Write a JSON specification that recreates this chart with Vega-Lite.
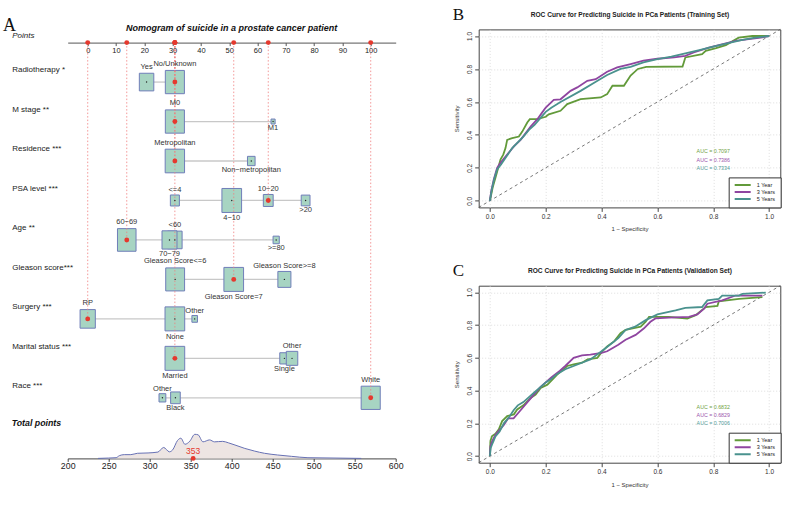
{
  "$schema": "https://vega.github.io/schema/vega-lite/v6.json",
  "background": "white",
  "padding": {"left": 1.7, "top": 5.4, "right": 5, "bottom": 5},
  "config": {
    "font": "Liberation Sans",
    "view": {"stroke": null},
    "axis": {"labelFont": "Liberation Sans", "titleFont": "Liberation Sans", "labelColor": "#222", "titleColor": "#222", "titleFontWeight": "normal", "labelOverlap": false},
    "title": {"font": "Liberation Sans", "color": "#111"}
  },
  "datasets": {
    "levels": [
      {"variable": "Radiotherapy *", "level": "Yes", "pts": 20.8, "share": 0.54, "patient": false},
      {"variable": "Radiotherapy *", "level": "No/Unknown", "pts": 30.8, "share": 0.94, "patient": true},
      {"variable": "M stage **", "level": "M0", "pts": 30.8, "share": 0.94, "patient": true},
      {"variable": "M stage **", "level": "M1", "pts": 65.5, "share": 0.043, "patient": false},
      {"variable": "Residence ***", "level": "Metropolitan", "pts": 30.8, "share": 0.97, "patient": true},
      {"variable": "Residence ***", "level": "Non−metropolitan", "pts": 57.8, "share": 0.15, "patient": false},
      {"variable": "PSA level ***", "level": "<=4", "pts": 30.8, "share": 0.21, "patient": false},
      {"variable": "PSA level ***", "level": "4−10", "pts": 50.9, "share": 1.0, "patient": false},
      {"variable": "PSA level ***", "level": "10−20", "pts": 63.8, "share": 0.25, "patient": true},
      {"variable": "PSA level ***", "level": ">20", "pts": 77.0, "share": 0.2, "patient": false},
      {"variable": "Age **", "level": "60−69", "pts": 13.8, "share": 0.89, "patient": true},
      {"variable": "Age **", "level": "<60", "pts": 30.8, "share": 0.54, "patient": false},
      {"variable": "Age **", "level": "70−79", "pts": 28.9, "share": 0.58, "patient": false},
      {"variable": "Age **", "level": ">=80", "pts": 66.6, "share": 0.1, "patient": false},
      {"variable": "Gleason score***", "level": "Gleason Score<=6", "pts": 30.9, "share": 0.92, "patient": false},
      {"variable": "Gleason score***", "level": "Gleason Score=7", "pts": 51.6, "share": 1.0, "patient": true},
      {"variable": "Gleason score***", "level": "Gleason Score>=8", "pts": 69.5, "share": 0.44, "patient": false},
      {"variable": "Surgery ***", "level": "RP", "pts": 0, "share": 0.6, "patient": true},
      {"variable": "Surgery ***", "level": "None", "pts": 30.8, "share": 1.0, "patient": false},
      {"variable": "Surgery ***", "level": "Other", "pts": 37.8, "share": 0.08, "patient": false},
      {"variable": "Marital status ***", "level": "Married", "pts": 30.8, "share": 1.0, "patient": true},
      {"variable": "Marital status ***", "level": "Single", "pts": 69.5, "share": 0.22, "patient": false},
      {"variable": "Marital status ***", "level": "Other", "pts": 72.2, "share": 0.34, "patient": false},
      {"variable": "Race ***", "level": "Other", "pts": 26.4, "share": 0.12, "patient": false},
      {"variable": "Race ***", "level": "Black", "pts": 31.0, "share": 0.24, "patient": false},
      {"variable": "Race ***", "level": "White", "pts": 100, "share": 0.94, "patient": true}
    ],
    "density": [
      {"total": 237, "density": 0}, {"total": 250, "density": 0.00014}, {"total": 259, "density": 0.00028},
      {"total": 263, "density": 0.00112}, {"total": 269, "density": 0.00154}, {"total": 277, "density": 0.00154},
      {"total": 285, "density": 0.0021}, {"total": 298, "density": 0.00224}, {"total": 310, "density": 0.0026},
      {"total": 317, "density": 0.0045}, {"total": 324, "density": 0.0027}, {"total": 328, "density": 0.0035},
      {"total": 334, "density": 0.0074}, {"total": 338, "density": 0.0083}, {"total": 343, "density": 0.0058},
      {"total": 349, "density": 0.0071}, {"total": 355, "density": 0.0099}, {"total": 359, "density": 0.0097},
      {"total": 365, "density": 0.0068}, {"total": 373, "density": 0.0076}, {"total": 379, "density": 0.0068},
      {"total": 389, "density": 0.0070}, {"total": 396, "density": 0.0064}, {"total": 404, "density": 0.0055},
      {"total": 416, "density": 0.0041}, {"total": 428, "density": 0.003}, {"total": 440, "density": 0.0021},
      {"total": 456, "density": 0.0014}, {"total": 473, "density": 0.00084}, {"total": 493, "density": 0.00028},
      {"total": 526, "density": 0.00014}, {"total": 558, "density": 0}
    ],
    "patient_total": [{"total": 353}],
    "auc": [
      {"set": "Training", "s": "1 Year", "label": "AUC = 0.7097"},
      {"set": "Training", "s": "3 Years", "label": "AUC = 0.7386"},
      {"set": "Training", "s": "5 Years", "label": "AUC = 0.7334"},
      {"set": "Validation", "s": "1 Year", "label": "AUC = 0.6832"},
      {"set": "Validation", "s": "3 Years", "label": "AUC = 0.6829"},
      {"set": "Validation", "s": "5 Years", "label": "AUC = 0.7006"}
    ],
    "train": [
      {"s": "1 Year", "fpr": 0, "tpr": 0}, {"s": "1 Year", "fpr": 0.004, "tpr": 0.03}, {"s": "1 Year", "fpr": 0.01, "tpr": 0.08},
      {"s": "1 Year", "fpr": 0.02, "tpr": 0.14}, {"s": "1 Year", "fpr": 0.03, "tpr": 0.2}, {"s": "1 Year", "fpr": 0.038, "tpr": 0.25},
      {"s": "1 Year", "fpr": 0.048, "tpr": 0.28}, {"s": "1 Year", "fpr": 0.056, "tpr": 0.32}, {"s": "1 Year", "fpr": 0.062, "tpr": 0.37},
      {"s": "1 Year", "fpr": 0.08, "tpr": 0.38}, {"s": "1 Year", "fpr": 0.104, "tpr": 0.39}, {"s": "1 Year", "fpr": 0.116, "tpr": 0.42},
      {"s": "1 Year", "fpr": 0.134, "tpr": 0.475}, {"s": "1 Year", "fpr": 0.143, "tpr": 0.495}, {"s": "1 Year", "fpr": 0.17, "tpr": 0.495},
      {"s": "1 Year", "fpr": 0.2, "tpr": 0.51}, {"s": "1 Year", "fpr": 0.211, "tpr": 0.525}, {"s": "1 Year", "fpr": 0.253, "tpr": 0.546},
      {"s": "1 Year", "fpr": 0.277, "tpr": 0.587}, {"s": "1 Year", "fpr": 0.325, "tpr": 0.617}, {"s": "1 Year", "fpr": 0.397, "tpr": 0.627},
      {"s": "1 Year", "fpr": 0.42, "tpr": 0.647}, {"s": "1 Year", "fpr": 0.439, "tpr": 0.698}, {"s": "1 Year", "fpr": 0.48, "tpr": 0.698},
      {"s": "1 Year", "fpr": 0.504, "tpr": 0.76}, {"s": "1 Year", "fpr": 0.53, "tpr": 0.8}, {"s": "1 Year", "fpr": 0.56, "tpr": 0.813},
      {"s": "1 Year", "fpr": 0.69, "tpr": 0.815}, {"s": "1 Year", "fpr": 0.7, "tpr": 0.87}, {"s": "1 Year", "fpr": 0.76, "tpr": 0.89},
      {"s": "1 Year", "fpr": 0.773, "tpr": 0.91}, {"s": "1 Year", "fpr": 0.81, "tpr": 0.927}, {"s": "1 Year", "fpr": 0.845, "tpr": 0.945},
      {"s": "1 Year", "fpr": 0.891, "tpr": 0.99}, {"s": "1 Year", "fpr": 0.94, "tpr": 1}, {"s": "1 Year", "fpr": 1, "tpr": 1},
      {"s": "3 Years", "fpr": 0, "tpr": 0}, {"s": "3 Years", "fpr": 0.005, "tpr": 0.06}, {"s": "3 Years", "fpr": 0.014, "tpr": 0.13},
      {"s": "3 Years", "fpr": 0.026, "tpr": 0.2}, {"s": "3 Years", "fpr": 0.038, "tpr": 0.23}, {"s": "3 Years", "fpr": 0.062, "tpr": 0.28},
      {"s": "3 Years", "fpr": 0.086, "tpr": 0.33}, {"s": "3 Years", "fpr": 0.11, "tpr": 0.37}, {"s": "3 Years", "fpr": 0.146, "tpr": 0.45},
      {"s": "3 Years", "fpr": 0.17, "tpr": 0.495}, {"s": "3 Years", "fpr": 0.187, "tpr": 0.535}, {"s": "3 Years", "fpr": 0.2, "tpr": 0.566},
      {"s": "3 Years", "fpr": 0.229, "tpr": 0.612}, {"s": "3 Years", "fpr": 0.253, "tpr": 0.616}, {"s": "3 Years", "fpr": 0.289, "tpr": 0.667},
      {"s": "3 Years", "fpr": 0.313, "tpr": 0.688}, {"s": "3 Years", "fpr": 0.349, "tpr": 0.728}, {"s": "3 Years", "fpr": 0.379, "tpr": 0.738},
      {"s": "3 Years", "fpr": 0.42, "tpr": 0.783}, {"s": "3 Years", "fpr": 0.456, "tpr": 0.81}, {"s": "3 Years", "fpr": 0.504, "tpr": 0.83},
      {"s": "3 Years", "fpr": 0.55, "tpr": 0.85}, {"s": "3 Years", "fpr": 0.6, "tpr": 0.862}, {"s": "3 Years", "fpr": 0.66, "tpr": 0.87},
      {"s": "3 Years", "fpr": 0.7, "tpr": 0.88}, {"s": "3 Years", "fpr": 0.73, "tpr": 0.9}, {"s": "3 Years", "fpr": 0.784, "tpr": 0.93},
      {"s": "3 Years", "fpr": 0.845, "tpr": 0.955}, {"s": "3 Years", "fpr": 0.88, "tpr": 0.97}, {"s": "3 Years", "fpr": 0.92, "tpr": 0.98},
      {"s": "3 Years", "fpr": 0.97, "tpr": 0.99}, {"s": "3 Years", "fpr": 1, "tpr": 1},
      {"s": "5 Years", "fpr": 0, "tpr": 0}, {"s": "5 Years", "fpr": 0.006, "tpr": 0.06}, {"s": "5 Years", "fpr": 0.015, "tpr": 0.13},
      {"s": "5 Years", "fpr": 0.026, "tpr": 0.19}, {"s": "5 Years", "fpr": 0.04, "tpr": 0.22}, {"s": "5 Years", "fpr": 0.06, "tpr": 0.27},
      {"s": "5 Years", "fpr": 0.08, "tpr": 0.32}, {"s": "5 Years", "fpr": 0.1, "tpr": 0.355}, {"s": "5 Years", "fpr": 0.12, "tpr": 0.39},
      {"s": "5 Years", "fpr": 0.14, "tpr": 0.43}, {"s": "5 Years", "fpr": 0.16, "tpr": 0.46}, {"s": "5 Years", "fpr": 0.18, "tpr": 0.5},
      {"s": "5 Years", "fpr": 0.2, "tpr": 0.54}, {"s": "5 Years", "fpr": 0.22, "tpr": 0.565}, {"s": "5 Years", "fpr": 0.253, "tpr": 0.6},
      {"s": "5 Years", "fpr": 0.325, "tpr": 0.667}, {"s": "5 Years", "fpr": 0.372, "tpr": 0.715}, {"s": "5 Years", "fpr": 0.42, "tpr": 0.763},
      {"s": "5 Years", "fpr": 0.468, "tpr": 0.8}, {"s": "5 Years", "fpr": 0.504, "tpr": 0.813}, {"s": "5 Years", "fpr": 0.55, "tpr": 0.84},
      {"s": "5 Years", "fpr": 0.6, "tpr": 0.86}, {"s": "5 Years", "fpr": 0.65, "tpr": 0.875}, {"s": "5 Years", "fpr": 0.7, "tpr": 0.895},
      {"s": "5 Years", "fpr": 0.75, "tpr": 0.915}, {"s": "5 Years", "fpr": 0.8, "tpr": 0.935}, {"s": "5 Years", "fpr": 0.85, "tpr": 0.955},
      {"s": "5 Years", "fpr": 0.9, "tpr": 0.975}, {"s": "5 Years", "fpr": 0.95, "tpr": 0.99}, {"s": "5 Years", "fpr": 1, "tpr": 1}
    ],
    "valid": [
      {"s": "1 Year", "fpr": 0, "tpr": 0}, {"s": "1 Year", "fpr": 0.002, "tpr": 0.093}, {"s": "1 Year", "fpr": 0.008, "tpr": 0.123},
      {"s": "1 Year", "fpr": 0.02, "tpr": 0.137}, {"s": "1 Year", "fpr": 0.032, "tpr": 0.164}, {"s": "1 Year", "fpr": 0.044, "tpr": 0.214},
      {"s": "1 Year", "fpr": 0.062, "tpr": 0.244}, {"s": "1 Year", "fpr": 0.086, "tpr": 0.255}, {"s": "1 Year", "fpr": 0.098, "tpr": 0.285},
      {"s": "1 Year", "fpr": 0.12, "tpr": 0.31}, {"s": "1 Year", "fpr": 0.146, "tpr": 0.355}, {"s": "1 Year", "fpr": 0.164, "tpr": 0.376},
      {"s": "1 Year", "fpr": 0.182, "tpr": 0.416}, {"s": "1 Year", "fpr": 0.206, "tpr": 0.436}, {"s": "1 Year", "fpr": 0.241, "tpr": 0.497},
      {"s": "1 Year", "fpr": 0.277, "tpr": 0.55}, {"s": "1 Year", "fpr": 0.3, "tpr": 0.56}, {"s": "1 Year", "fpr": 0.33, "tpr": 0.57},
      {"s": "1 Year", "fpr": 0.35, "tpr": 0.59}, {"s": "1 Year", "fpr": 0.385, "tpr": 0.6}, {"s": "1 Year", "fpr": 0.403, "tpr": 0.64},
      {"s": "1 Year", "fpr": 0.42, "tpr": 0.67}, {"s": "1 Year", "fpr": 0.445, "tpr": 0.7}, {"s": "1 Year", "fpr": 0.468, "tpr": 0.75},
      {"s": "1 Year", "fpr": 0.486, "tpr": 0.77}, {"s": "1 Year", "fpr": 0.54, "tpr": 0.79}, {"s": "1 Year", "fpr": 0.558, "tpr": 0.82},
      {"s": "1 Year", "fpr": 0.57, "tpr": 0.85}, {"s": "1 Year", "fpr": 0.64, "tpr": 0.85}, {"s": "1 Year", "fpr": 0.707, "tpr": 0.84},
      {"s": "1 Year", "fpr": 0.737, "tpr": 0.86}, {"s": "1 Year", "fpr": 0.773, "tpr": 0.91}, {"s": "1 Year", "fpr": 0.815, "tpr": 0.917},
      {"s": "1 Year", "fpr": 0.82, "tpr": 0.945}, {"s": "1 Year", "fpr": 0.892, "tpr": 0.96}, {"s": "1 Year", "fpr": 0.976, "tpr": 0.97},
      {"s": "3 Years", "fpr": 0, "tpr": 0}, {"s": "3 Years", "fpr": 0.002, "tpr": 0.06}, {"s": "3 Years", "fpr": 0.008, "tpr": 0.09},
      {"s": "3 Years", "fpr": 0.02, "tpr": 0.13}, {"s": "3 Years", "fpr": 0.035, "tpr": 0.16}, {"s": "3 Years", "fpr": 0.05, "tpr": 0.19},
      {"s": "3 Years", "fpr": 0.065, "tpr": 0.23}, {"s": "3 Years", "fpr": 0.085, "tpr": 0.23}, {"s": "3 Years", "fpr": 0.1, "tpr": 0.26},
      {"s": "3 Years", "fpr": 0.12, "tpr": 0.3}, {"s": "3 Years", "fpr": 0.14, "tpr": 0.34}, {"s": "3 Years", "fpr": 0.16, "tpr": 0.38},
      {"s": "3 Years", "fpr": 0.18, "tpr": 0.42}, {"s": "3 Years", "fpr": 0.2, "tpr": 0.45}, {"s": "3 Years", "fpr": 0.22, "tpr": 0.48},
      {"s": "3 Years", "fpr": 0.25, "tpr": 0.52}, {"s": "3 Years", "fpr": 0.27, "tpr": 0.55}, {"s": "3 Years", "fpr": 0.3, "tpr": 0.6},
      {"s": "3 Years", "fpr": 0.33, "tpr": 0.615}, {"s": "3 Years", "fpr": 0.36, "tpr": 0.62}, {"s": "3 Years", "fpr": 0.4, "tpr": 0.63},
      {"s": "3 Years", "fpr": 0.42, "tpr": 0.64}, {"s": "3 Years", "fpr": 0.44, "tpr": 0.66}, {"s": "3 Years", "fpr": 0.46, "tpr": 0.68},
      {"s": "3 Years", "fpr": 0.486, "tpr": 0.71}, {"s": "3 Years", "fpr": 0.522, "tpr": 0.74}, {"s": "3 Years", "fpr": 0.552, "tpr": 0.78},
      {"s": "3 Years", "fpr": 0.575, "tpr": 0.82}, {"s": "3 Years", "fpr": 0.593, "tpr": 0.84}, {"s": "3 Years", "fpr": 0.641, "tpr": 0.845},
      {"s": "3 Years", "fpr": 0.713, "tpr": 0.85}, {"s": "3 Years", "fpr": 0.743, "tpr": 0.865}, {"s": "3 Years", "fpr": 0.767, "tpr": 0.9},
      {"s": "3 Years", "fpr": 0.779, "tpr": 0.93}, {"s": "3 Years", "fpr": 0.832, "tpr": 0.95}, {"s": "3 Years", "fpr": 0.88, "tpr": 0.98},
      {"s": "3 Years", "fpr": 0.976, "tpr": 0.98},
      {"s": "5 Years", "fpr": 0, "tpr": 0}, {"s": "5 Years", "fpr": 0.003, "tpr": 0.05}, {"s": "5 Years", "fpr": 0.01, "tpr": 0.08},
      {"s": "5 Years", "fpr": 0.02, "tpr": 0.12}, {"s": "5 Years", "fpr": 0.035, "tpr": 0.15}, {"s": "5 Years", "fpr": 0.05, "tpr": 0.2},
      {"s": "5 Years", "fpr": 0.07, "tpr": 0.24}, {"s": "5 Years", "fpr": 0.085, "tpr": 0.28}, {"s": "5 Years", "fpr": 0.1, "tpr": 0.31},
      {"s": "5 Years", "fpr": 0.12, "tpr": 0.33}, {"s": "5 Years", "fpr": 0.14, "tpr": 0.36}, {"s": "5 Years", "fpr": 0.16, "tpr": 0.39},
      {"s": "5 Years", "fpr": 0.18, "tpr": 0.42}, {"s": "5 Years", "fpr": 0.2, "tpr": 0.45}, {"s": "5 Years", "fpr": 0.22, "tpr": 0.47},
      {"s": "5 Years", "fpr": 0.24, "tpr": 0.5}, {"s": "5 Years", "fpr": 0.27, "tpr": 0.53}, {"s": "5 Years", "fpr": 0.3, "tpr": 0.55},
      {"s": "5 Years", "fpr": 0.33, "tpr": 0.57}, {"s": "5 Years", "fpr": 0.36, "tpr": 0.59}, {"s": "5 Years", "fpr": 0.4, "tpr": 0.64},
      {"s": "5 Years", "fpr": 0.43, "tpr": 0.68}, {"s": "5 Years", "fpr": 0.46, "tpr": 0.72}, {"s": "5 Years", "fpr": 0.486, "tpr": 0.77},
      {"s": "5 Years", "fpr": 0.52, "tpr": 0.79}, {"s": "5 Years", "fpr": 0.558, "tpr": 0.83}, {"s": "5 Years", "fpr": 0.6, "tpr": 0.865},
      {"s": "5 Years", "fpr": 0.665, "tpr": 0.89}, {"s": "5 Years", "fpr": 0.7, "tpr": 0.905}, {"s": "5 Years", "fpr": 0.76, "tpr": 0.91},
      {"s": "5 Years", "fpr": 0.779, "tpr": 0.95}, {"s": "5 Years", "fpr": 0.82, "tpr": 0.96}, {"s": "5 Years", "fpr": 0.832, "tpr": 0.98},
      {"s": "5 Years", "fpr": 0.892, "tpr": 0.98}, {"s": "5 Years", "fpr": 0.904, "tpr": 0.99}, {"s": "5 Years", "fpr": 0.988, "tpr": 0.998}
    ]
  },
  "bounds": "full",
  "spacing": 48,
  "hconcat": [
    {
      "bounds": "flush",
      "spacing": 0,
      "resolve": {"scale": {"x": "independent"}},
      "vconcat": [
        {
          "width": 328,
          "height": 401.3,
          "title": {"text": "Nomogram of suicide in a prostate cancer patient", "fontSize": 9, "fontWeight": "bold", "fontStyle": "italic", "anchor": "middle", "offset": -16.5},
          "data": {"name": "levels"},
          "resolve": {"scale": {"yOffset": "independent"}},
          "encoding": {
            "y": {
              "field": "variable", "type": "nominal",
              "scale": {"type": "point", "domain": ["Points", "Radiotherapy *", "M stage **", "Residence ***", "PSA level ***", "Age **", "Gleason score***", "Surgery ***", "Marital status ***", "Race ***"], "padding": 0.5837, "align": 0.2865},
              "axis": {
                "orient": "left", "domain": false, "ticks": false, "tickSize": 0, "grid": false,
                "labelAlign": "left", "labelBaseline": "middle", "labelPadding": 56, "labelFontSize": 8, "labelColor": "#222", "labelLimit": 0,
                "labelOffset": {"condition": {"test": "datum.value == 'Points'", "value": -7.5}, "value": -12.3},
                "labelFontStyle": {"condition": {"test": "datum.value == 'Points'", "value": "italic"}, "value": "normal"},
                "title": "A", "titleAngle": 0, "titleFont": "Liberation Serif", "titleFontSize": 18, "titleFontWeight": "normal",
                "titleAlign": "left", "titleBaseline": "alphabetic", "titleX": -65.3, "titleY": 1.3, "titleColor": "#111"
              }
            },
            "x": {
              "field": "pts", "type": "quantitative",
              "scale": {"domain": [-7.07, 108.83], "nice": false, "zero": false},
              "axis": {
                "orient": "bottom", "offset": -388.1, "values": [0, 10, 20, 30, 40, 50, 60, 70, 80, 90, 100],
                "domainColor": "#555", "domainWidth": 1, "tickColor": "#555", "tickSize": 3, "labelFontSize": 7.5,
                "labelPadding": 1, "labelColor": "#222", "grid": false, "title": null, "labelFlush": false
              }
            }
          },
          "layer": [
            {
              "transform": [{"aggregate": [{"op": "min", "field": "pts", "as": "lo"}, {"op": "max", "field": "pts", "as": "hi"}], "groupby": ["variable"]}],
              "mark": {"type": "rule", "color": "#c8c8c8", "strokeWidth": 1.3},
              "encoding": {
                "x": {
                  "field": "lo", "type": "quantitative",
                  "scale": {"domain": [-7.07, 108.83], "nice": false, "zero": false},
                  "axis": {
                    "orient": "bottom", "offset": -388.1, "values": [0, 10, 20, 30, 40, 50, 60, 70, 80, 90, 100],
                    "domainColor": "#555", "domainWidth": 1, "tickColor": "#555", "tickSize": 3, "labelFontSize": 7.5,
                    "labelPadding": 1, "labelColor": "#222", "grid": false, "title": null, "labelFlush": false
                  }
                },
                "x2": {"field": "hi"}
              }
            },
            {
              "mark": {"type": "point", "shape": "M-0.82,-1H0.82V1H-0.82Z", "filled": true, "fill": "#a7d4c2", "stroke": "#6f7db9", "strokeWidth": 1, "opacity": 1},
              "encoding": {
                "size": {"field": "share", "type": "quantitative", "scale": {"domain": [0, 1], "range": [0, 576]}, "legend": null}
              }
            },
            {
              "transform": [{"filter": "datum.patient"}],
              "mark": {"type": "rule", "color": "#f07f7f", "strokeWidth": 0.8, "strokeDash": [1.5, 2]},
              "encoding": {
                "y": {
                  "datum": "Points", "type": "nominal",
                  "axis": {
                    "orient": "left", "domain": false, "ticks": false, "tickSize": 0, "grid": false,
                    "labelAlign": "left", "labelBaseline": "middle", "labelPadding": 56, "labelFontSize": 8, "labelColor": "#222", "labelLimit": 0,
                    "labelOffset": {"condition": {"test": "datum.value == 'Points'", "value": -7.5}, "value": -12.3},
                    "labelFontStyle": {"condition": {"test": "datum.value == 'Points'", "value": "italic"}, "value": "normal"},
                    "title": "A", "titleAngle": 0, "titleFont": "Liberation Serif", "titleFontSize": 18, "titleFontWeight": "normal",
                    "titleAlign": "left", "titleBaseline": "alphabetic", "titleX": -65.3, "titleY": 1.3, "titleColor": "#111"
                  }
                },
                "y2": {"field": "variable"}
              }
            },
            {
              "mark": {"type": "point", "filled": true, "color": "#222", "size": 2, "opacity": 1}
            },
            {
              "transform": [{"filter": "datum.patient"}],
              "mark": {"type": "point", "filled": true, "color": "#e5392e", "size": 24, "opacity": 1}
            },
            {
              "transform": [{"filter": "datum.patient"}],
              "mark": {"type": "point", "filled": true, "color": "#e5392e", "size": 24, "opacity": 1},
              "encoding": {
                "y": {
                  "datum": "Points", "type": "nominal",
                  "axis": {
                    "orient": "left", "domain": false, "ticks": false, "tickSize": 0, "grid": false,
                    "labelAlign": "left", "labelBaseline": "middle", "labelPadding": 56, "labelFontSize": 8, "labelColor": "#222", "labelLimit": 0,
                    "labelOffset": {"condition": {"test": "datum.value == 'Points'", "value": -7.5}, "value": -12.3},
                    "labelFontStyle": {"condition": {"test": "datum.value == 'Points'", "value": "italic"}, "value": "normal"},
                    "title": "A", "titleAngle": 0, "titleFont": "Liberation Serif", "titleFontSize": 18, "titleFontWeight": "normal",
                    "titleAlign": "left", "titleBaseline": "alphabetic", "titleX": -65.3, "titleY": 1.3, "titleColor": "#111"
                  }
                }
              }
            },
            {
              "transform": [{"filter": {"field": "level", "oneOf": ["Yes", "No/Unknown", "M0", "Metropolitan", "<=4", "10−20", "60−69", "<60", "Gleason Score<=6", "Gleason Score>=8", "RP", "Other", "White"]}}],
              "mark": {"type": "text", "fontSize": 7.5, "color": "#333", "baseline": "middle"},
              "encoding": {
                "yOffset": {"field": "share", "type": "quantitative", "scale": {"type": "sqrt", "domain": [0, 1], "range": [-4.2, -18.7], "zero": false, "nice": false}},
                "text": {"field": "level"}
              }
            },
            {
              "transform": [{"filter": {"field": "level", "oneOf": ["M1", "Non−metropolitan", "4−10", ">20", "70−79", ">=80", "Gleason Score=7", "None", "Married", "Single", "Black"]}}],
              "mark": {"type": "text", "fontSize": 7.5, "color": "#333", "baseline": "middle"},
              "encoding": {
                "yOffset": {"field": "share", "type": "quantitative", "scale": {"type": "sqrt", "domain": [0, 1], "range": [3.5, 18], "zero": false, "nice": false}},
                "text": {"field": "level"}
              }
            }
          ]
        },
        {
          "width": 328,
          "height": 27,
          "title": {"text": "Total points", "anchor": "start", "frame": "group", "dx": -56, "fontSize": 8.8, "fontWeight": "bold", "fontStyle": "italic", "offset": 4},
          "encoding": {
            "x": {
              "field": "total", "type": "quantitative",
              "scale": {"domain": [200, 600], "nice": false, "zero": false},
              "axis": {
                "orient": "bottom", "values": [200, 250, 300, 350, 400, 450, 500, 550, 600], "domainColor": "#444", "tickColor": "#444",
                "tickSize": 3, "labelFontSize": 8.8, "labelPadding": 0.5, "labelColor": "#222", "title": null, "grid": false, "labelFlush": false
              }
            }
          },
          "layer": [
            {
              "data": {"name": "density"},
              "mark": {"type": "area", "interpolate": "monotone", "color": "#ede5e3", "opacity": 1, "line": {"color": "#6670b4", "strokeWidth": 1}},
              "encoding": {
                "y": {"field": "density", "type": "quantitative", "scale": {"domain": [0, 0.0111], "nice": false}, "axis": null}
              }
            },
            {
              "data": {"name": "patient_total"},
              "mark": {"type": "point", "filled": true, "color": "#e5392e", "size": 24, "opacity": 1},
              "encoding": {
                "y": {"datum": 0, "type": "quantitative", "axis": null}
              }
            },
            {
              "data": {"name": "patient_total"},
              "mark": {"type": "text", "color": "#e5392e", "fontSize": 8.5, "baseline": "bottom", "dy": -2},
              "encoding": {
                "y": {"datum": 0, "type": "quantitative", "axis": null},
                "text": {"field": "total", "type": "quantitative"}
              }
            }
          ]
        }
      ]
    },
    {
      "bounds": "flush",
      "spacing": 78.3,
      "resolve": {"legend": {"color": "independent"}},
      "vconcat": [
        {
          "width": 301.6,
          "height": 178,
          "title": {"text": "B", "anchor": "start", "frame": "group", "font": "Liberation Serif", "fontSize": 17, "fontWeight": "normal", "offset": -13, "dx": -26},
          "view": {"stroke": "#444", "strokeWidth": 1},
          "encoding": {
            "y": {"type": "quantitative", "scale": {"domain": [-0.04, 1.04], "nice": false, "zero": false},
                  "axis": {"orient": "left", "values": [0, 0.2, 0.4, 0.6, 0.8, 1], "format": ".1f", "title": "Sensitivity", "titleFontSize": 6, "titlePadding": 7, "labelFontSize": 6.5, "labelAngle": 270, "labelAlign": "center", "labelBaseline": "bottom", "labelPadding": 2, "tickSize": 4, "tickColor": "#444", "domain": false, "grid": true, "gridColor": "#d6d6d6", "gridDash": [1, 2], "gridWidth": 0.8, "labelFlush": false, "labelColor": "#333", "titleColor": "#333"}}
          },
          "layer": [
            {
              "data": {"values": [{}]},
              "mark": {"type": "rule", "strokeDash": [3, 3], "color": "#555", "strokeWidth": 0.8},
              "encoding": {
                "x": {"datum": -0.04, "type": "quantitative", "scale": {"domain": [-0.04, 1.04], "nice": false, "zero": false},
                      "axis": {"orient": "top", "title": "ROC Curve for Predicting Suicide in PCa Patients (Training Set)", "labels": false, "ticks": false, "domain": false, "grid": false, "titleFontSize": 6.6, "titleFontWeight": "bold", "titlePadding": 12.2, "titleColor": "#222"}},
                "x2": {"datum": 1.04},
                "y": {"datum": -0.04},
                "y2": {"datum": 1.04}
              }
            },
            {
              "data": {"name": "train"},
              "mark": {"type": "line", "strokeWidth": 1.8},
              "encoding": {
                "x": {"field": "fpr", "type": "quantitative", "scale": {"domain": [-0.04, 1.04], "nice": false, "zero": false},
                      "axis": {"orient": "bottom", "values": [0, 0.2, 0.4, 0.6, 0.8, 1], "format": ".1f", "title": "1 − Specificity", "titleFontSize": 6, "titlePadding": 6, "labelFontSize": 6.5, "labelPadding": 2, "tickSize": 4, "tickColor": "#444", "domain": false, "grid": true, "gridColor": "#d6d6d6", "gridDash": [1, 2], "gridWidth": 0.8, "labelFlush": false, "labelColor": "#333", "titleColor": "#333"}},
                "y": {"field": "tpr"},
                "color": {"field": "s", "type": "nominal",
                          "scale": {"domain": ["1 Year", "3 Years", "5 Years"], "range": ["#629a3a", "#8f45a0", "#4a928e"]},
                          "legend": {"orient": "bottom-right", "title": null, "offset": 0, "padding": 5, "strokeColor": "#333", "fillColor": "white", "symbolType": "stroke", "symbolSize": 256, "symbolStrokeWidth": 2, "labelFontSize": 5.5, "labelOffset": 5, "clipHeight": 5, "rowPadding": 1, "labelColor": "#222"}}
              }
            },
            {
              "data": {"name": "auc"},
              "transform": [{"filter": "datum.set == 'Training' && datum.s == '1 Year'"}],
              "mark": {"type": "text", "fontSize": 5.3, "color": "#6f9f43"},
              "encoding": {"x": {"datum": 0.8, "type": "quantitative", "axis": null}, "y": {"datum": 0.3}, "text": {"field": "label"}}
            },
            {
              "data": {"name": "auc"},
              "transform": [{"filter": "datum.set == 'Training' && datum.s == '3 Years'"}],
              "mark": {"type": "text", "fontSize": 5.3, "color": "#9b55ab"},
              "encoding": {"x": {"datum": 0.8, "type": "quantitative", "axis": null}, "y": {"datum": 0.25}, "text": {"field": "label"}}
            },
            {
              "data": {"name": "auc"},
              "transform": [{"filter": "datum.set == 'Training' && datum.s == '5 Years'"}],
              "mark": {"type": "text", "fontSize": 5.3, "color": "#559e9a"},
              "encoding": {"x": {"datum": 0.8, "type": "quantitative", "axis": null}, "y": {"datum": 0.2}, "text": {"field": "label"}}
            }
          ]
        },
        {
          "width": 301.6,
          "height": 177,
          "title": {"text": "C", "anchor": "start", "frame": "group", "font": "Liberation Serif", "fontSize": 17, "fontWeight": "normal", "offset": -13, "dx": -26},
          "view": {"stroke": "#444", "strokeWidth": 1},
          "encoding": {
            "y": {"type": "quantitative", "scale": {"domain": [-0.04, 1.04], "nice": false, "zero": false},
                  "axis": {"orient": "left", "values": [0, 0.2, 0.4, 0.6, 0.8, 1], "format": ".1f", "title": "Sensitivity", "titleFontSize": 6, "titlePadding": 7, "labelFontSize": 6.5, "labelAngle": 270, "labelAlign": "center", "labelBaseline": "bottom", "labelPadding": 2, "tickSize": 4, "tickColor": "#444", "domain": false, "grid": true, "gridColor": "#d6d6d6", "gridDash": [1, 2], "gridWidth": 0.8, "labelFlush": false, "labelColor": "#333", "titleColor": "#333"}}
          },
          "layer": [
            {
              "data": {"values": [{}]},
              "mark": {"type": "rule", "strokeDash": [3, 3], "color": "#555", "strokeWidth": 0.8},
              "encoding": {
                "x": {"datum": -0.04, "type": "quantitative", "scale": {"domain": [-0.04, 1.04], "nice": false, "zero": false},
                      "axis": {"orient": "top", "title": "ROC Curve for Predicting Suicide in PCa Patients (Validation Set)", "labels": false, "ticks": false, "domain": false, "grid": false, "titleFontSize": 6.6, "titleFontWeight": "bold", "titlePadding": 12.2, "titleColor": "#222"}},
                "x2": {"datum": 1.04},
                "y": {"datum": -0.04},
                "y2": {"datum": 1.04}
              }
            },
            {
              "data": {"name": "valid"},
              "mark": {"type": "line", "strokeWidth": 1.8},
              "encoding": {
                "x": {"field": "fpr", "type": "quantitative", "scale": {"domain": [-0.04, 1.04], "nice": false, "zero": false},
                      "axis": {"orient": "bottom", "values": [0, 0.2, 0.4, 0.6, 0.8, 1], "format": ".1f", "title": "1 − Specificity", "titleFontSize": 6, "titlePadding": 6, "labelFontSize": 6.5, "labelPadding": 2, "tickSize": 4, "tickColor": "#444", "domain": false, "grid": true, "gridColor": "#d6d6d6", "gridDash": [1, 2], "gridWidth": 0.8, "labelFlush": false, "labelColor": "#333", "titleColor": "#333"}},
                "y": {"field": "tpr"},
                "color": {"field": "s", "type": "nominal",
                          "scale": {"domain": ["1 Year", "3 Years", "5 Years"], "range": ["#629a3a", "#8f45a0", "#4a928e"]},
                          "legend": {"orient": "bottom-right", "title": null, "offset": 0, "padding": 5, "strokeColor": "#333", "fillColor": "white", "symbolType": "stroke", "symbolSize": 256, "symbolStrokeWidth": 2, "labelFontSize": 5.5, "labelOffset": 5, "clipHeight": 5, "rowPadding": 1, "labelColor": "#222"}}
              }
            },
            {
              "data": {"name": "auc"},
              "transform": [{"filter": "datum.set == 'Validation' && datum.s == '1 Year'"}],
              "mark": {"type": "text", "fontSize": 5.3, "color": "#6f9f43"},
              "encoding": {"x": {"datum": 0.8, "type": "quantitative", "axis": null}, "y": {"datum": 0.3}, "text": {"field": "label"}}
            },
            {
              "data": {"name": "auc"},
              "transform": [{"filter": "datum.set == 'Validation' && datum.s == '3 Years'"}],
              "mark": {"type": "text", "fontSize": 5.3, "color": "#9b55ab"},
              "encoding": {"x": {"datum": 0.8, "type": "quantitative", "axis": null}, "y": {"datum": 0.25}, "text": {"field": "label"}}
            },
            {
              "data": {"name": "auc"},
              "transform": [{"filter": "datum.set == 'Validation' && datum.s == '5 Years'"}],
              "mark": {"type": "text", "fontSize": 5.3, "color": "#559e9a"},
              "encoding": {"x": {"datum": 0.8, "type": "quantitative", "axis": null}, "y": {"datum": 0.2}, "text": {"field": "label"}}
            }
          ]
        }
      ]
    }
  ]
}
